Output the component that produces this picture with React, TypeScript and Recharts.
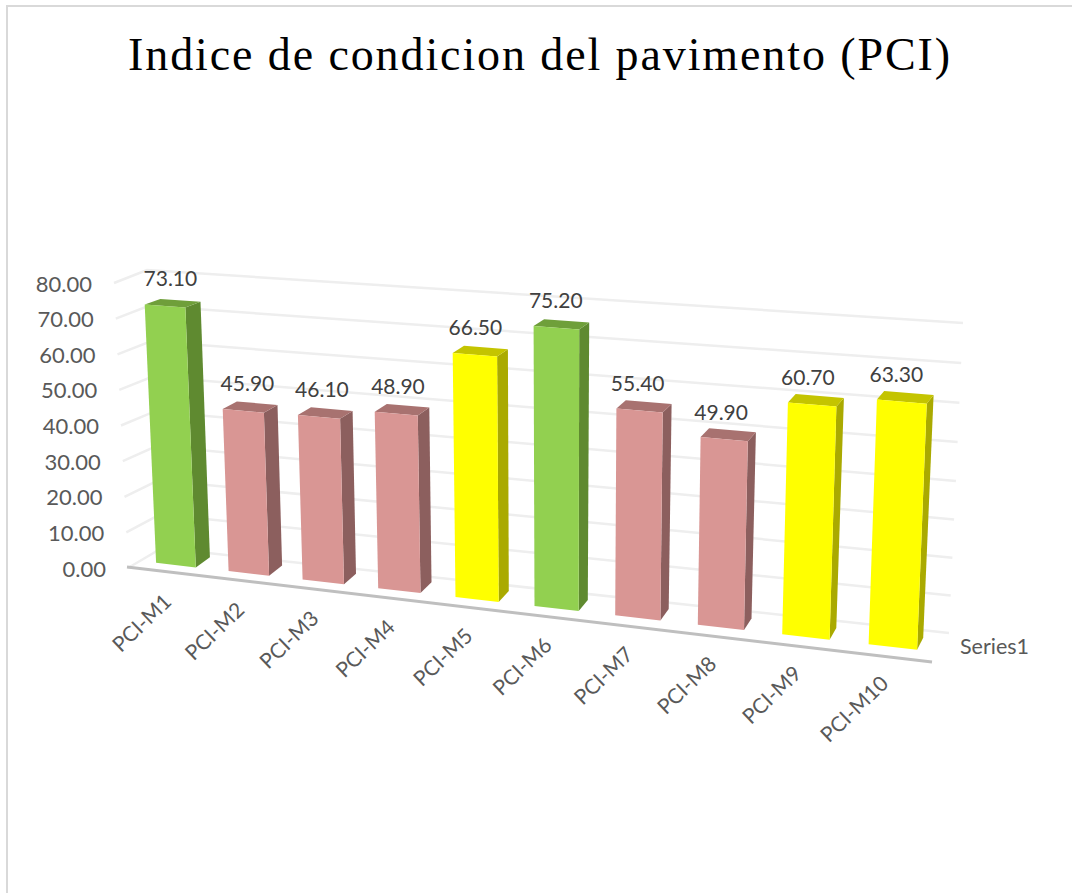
import React from 'react';
import { BarChart, Bar, XAxis, YAxis, CartesianGrid, LabelList, ReferenceLine } from 'recharts';

const categories = ['PCI-M1', 'PCI-M2', 'PCI-M3', 'PCI-M4', 'PCI-M5', 'PCI-M6', 'PCI-M7', 'PCI-M8', 'PCI-M9', 'PCI-M10'];
const pciValues = [73.1, 45.9, 46.1, 48.9, 66.5, 75.2, 55.4, 49.9, 60.7, 63.3];
const conditionClass = ['good', 'poor', 'poor', 'poor', 'fair', 'good', 'poor', 'poor', 'fair', 'fair'];
const yTicks = [0, 10, 20, 30, 40, 50, 60, 70, 80];
const titleText = 'Indice de condicion del pavimento (PCI)';
const seriesName = 'Series1';

const faces: Record<string, { front: string; side: string; top: string }> = {
  good: { front: '#92d050', side: '#5f8a30', top: '#6f9f3a' },
  poor: { front: '#d99694', side: '#8c5f5e', top: '#a87270' },
  fair: { front: '#ffff00', side: '#aaaa00', top: '#c4c400' },
};

const data = categories.map((name, i) => ({ name, value: pciValues[i], cls: conditionClass[i] }));

const W = 1072, H = 893;
const M = 100;
const PW = W - 2 * M, PH = H - 2 * M;
const Y_MAX = 80;

type P = [number, number];
// unit square -> quadrilateral (perspective). p0:(0,0) p1:(1,0) p2:(1,1) p3:(0,1)
function homography(p0: P, p1: P, p2: P, p3: P) {
  const dx1 = p1[0] - p2[0], dx2 = p3[0] - p2[0], sx = p0[0] - p1[0] + p2[0] - p3[0];
  const dy1 = p1[1] - p2[1], dy2 = p3[1] - p2[1], sy = p0[1] - p1[1] + p2[1] - p3[1];
  const den = dx1 * dy2 - dx2 * dy1;
  const g = (sx * dy2 - dx2 * sy) / den, h = (dx1 * sy - sx * dy1) / den;
  const a = p1[0] - p0[0] + g * p1[0], b = p3[0] - p0[0] + h * p3[0], c = p0[0];
  const d = p1[1] - p0[1] + g * p1[1], e = p3[1] - p0[1] + h * p3[1], f = p0[1];
  return (u: number, v: number): P => {
    const w = g * u + h * v + 1;
    return [(a * u + b * v + c) / w, (d * u + e * v + f) / w];
  };
}

const frontPlane = homography([140, 561], [937, 652], [950, 338], [127, 278]);
const backPlane = homography([155, 551], [943, 640], [957, 330], [143, 273]);
const wallPlane = homography([162, 548], [949, 633], [963, 323], [147, 270]);

const toU = (px: number) => (px - M) / PW;
const toV = (py: number) => (H - M - py) / PH;
const pts = (...list: P[]) => list.map((p) => `${p[0].toFixed(1)},${p[1].toFixed(1)}`).join(' ');
const lerp = (a: number, b: number, t: number) => a + (b - a) * t;

const Bar3D = (props: any) => {
  const { x, y, width, height, payload } = props;
  const c = faces[payload.cls];
  const u0 = toU(x), u1 = toU(x + width);
  const v1 = toV(y), v0 = toV(y + height);
  const fbl = frontPlane(u0, v0), fbr = frontPlane(u1, v0), ftr = frontPlane(u1, v1), ftl = frontPlane(u0, v1);
  const bbr = backPlane(u1, v0), btr = backPlane(u1, v1), btl = backPlane(u0, v1);
  return (
    <g>
      <polygon points={pts(fbr, bbr, btr, ftr)} fill={c.side} />
      <polygon points={pts(ftl, ftr, btr, btl)} fill={c.top} />
      <polygon points={pts(fbl, fbr, ftr, ftl)} fill={c.front} />
    </g>
  );
};

const ValueLabel = (props: any) => {
  const { x, y, width, value } = props;
  const u = toU(x + width / 2);
  const p = frontPlane(u, toV(y));
  return (
    <text x={p[0] + lerp(6, -6, u)} y={p[1] - 28} textAnchor="middle" dominantBaseline="central"
      fontFamily="Lato" fontSize={21} fill="#404040">
      {Number(value).toFixed(2)}
    </text>
  );
};

const CategoryTick = (props: any) => {
  const { x, payload } = props;
  const p = frontPlane(toU(x), 0);
  const tx = p[0] - 9, ty = p[1] + 32;
  return (
    <text x={tx} y={ty} textAnchor="end" dominantBaseline="central" fontFamily="Lato" fontSize={21}
      fill="#595959" transform={`rotate(-44 ${tx} ${ty})`}>
      {payload.value}
    </text>
  );
};

const leftEdge = (v: number): P => [lerp(128, 114, v), lerp(568, 283, v)];

const ValueTick = (props: any) => {
  const { y, payload } = props;
  const p = leftEdge(toV(y));
  return (
    <text x={p[0] - 22} y={p[1]} textAnchor="end" dominantBaseline="central" fontFamily="Lato" fontSize={22} fill="#595959">
      {Number(payload.value).toFixed(2)}
    </text>
  );
};

const GridLine = (props: any) => {
  const v = toV(props.y1);
  const front = leftEdge(v), a = wallPlane(0, v), b = wallPlane(1, v);
  return (
    <polyline key={props.key ?? props.index} points={pts(front, a, b)} fill="none" stroke="#eeeeee" strokeWidth={2.5} />
  );
};

const FloorLine = () => (
  <line x1={127} y1={567} x2={932} y2={662} stroke="#bfbfbf" strokeWidth={3} />
);

export default function App() {
  return (
    <div style={{ position: 'absolute', left: 0, top: 0, width: W, height: H, overflow: 'hidden', background: '#fff' }}>
      <div style={{ position: 'absolute', left: 6, top: 5, right: -4, bottom: -4, borderLeft: '2px solid #d9d9d9', borderTop: '2px solid #d9d9d9' }} />
      <div style={{ position: 'absolute', left: 0, top: 0 }}>
        <BarChart width={W} height={H} data={data} margin={{ top: M, right: M, bottom: M - 1, left: M - 1 }} barCategoryGap="22.5%">
          <CartesianGrid vertical={false} horizontal={GridLine as any} />
          <XAxis dataKey="name" height={1} axisLine={false} tickLine={false} interval={0} tick={CategoryTick as any} />
          <YAxis width={1} domain={[0, Y_MAX]} ticks={yTicks} axisLine={false} tickLine={false} tick={ValueTick as any} />
          <ReferenceLine y={0} shape={FloorLine as any} ifOverflow="visible" />
          <Bar dataKey="value" isAnimationActive={false} shape={Bar3D as any}>
            <LabelList dataKey="value" content={ValueLabel as any} />
          </Bar>
          <text x={540} y={70} textAnchor="middle" fontFamily="Liberation Serif" fontSize={46} letterSpacing={1.9} fill="#000000">
            {titleText}
          </text>
          <text x={960} y={646} dominantBaseline="central" fontFamily="Lato" fontSize={21.5} fill="#595959">
            {seriesName}
          </text>
        </BarChart>
      </div>
    </div>
  );
}
